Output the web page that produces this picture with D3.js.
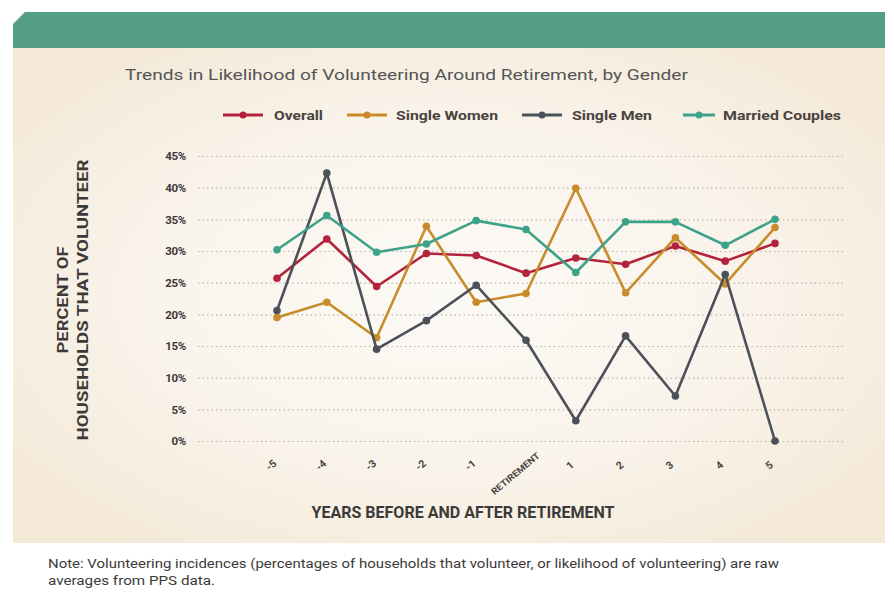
<!DOCTYPE html>
<html>
<head>
<meta charset="utf-8">
<script src="https://cdn.jsdelivr.net/npm/d3@7"></script>
<style>
  html, body { margin: 0; padding: 0; background: #ffffff; }
  svg { display: block; }
</style>
</head>
<body>
<svg id="chart" width="894" height="599"></svg>
<script>
// ---- data ----
const categories = ["-5", "-4", "-3", "-2", "-1", "RETIREMENT", "1", "2", "3", "4", "5"];
const overall       = [25.7, 31.9, 24.4, 29.6, 29.3, 26.5, 28.9, 27.9, 30.8, 28.4, 31.2];
const singleWomen   = [19.5, 21.9, 16.3, 33.9, 21.9, 23.3, 39.9, 23.4, 32.1, 24.8, 33.7];
const singleMen     = [20.6, 42.3, 14.5, 19.0, 24.6, 15.9, 3.2, 16.6, 7.1, 26.3, 0.0];
const marriedCouples= [30.2, 35.6, 29.8, 31.1, 34.8, 33.4, 26.6, 34.6, 34.6, 30.9, 35.0];
const seriesNames   = ["Overall", "Single Women", "Single Men", "Married Couples"];
const yTicks        = [0, 5, 10, 15, 20, 25, 30, 35, 40, 45];

const titleText = "Trends in Likelihood of Volunteering Around Retirement, by Gender";
const yTitle = ["PERCENT OF", "HOUSEHOLDS THAT VOLUNTEER"];
const xTitle = "YEARS BEFORE AND AFTER RETIREMENT";
const noteLines = ["Note: Volunteering incidences (percentages of households that volunteer, or likelihood of volunteering) are raw",
                   "averages from PPS data."];

const colors = ["#b3243c", "#c98c2c", "#4b5059", "#3ea28a"];
const seriesValues = [overall, singleWomen, singleMen, marriedCouples];

const svg = d3.select("#chart");

// ---- panel ----
const defs = svg.append("defs");
const rg = defs.append("radialGradient").attr("id", "bg").attr("cx", "50%").attr("cy", "50%").attr("r", "65%");
rg.append("stop").attr("offset", "0%").attr("stop-color", "#fcfaf6");
rg.append("stop").attr("offset", "55%").attr("stop-color", "#f9f3ea");
rg.append("stop").attr("offset", "100%").attr("stop-color", "#f4e8d6");

svg.append("rect").attr("x", 13).attr("y", 47).attr("width", 872).attr("height", 496).attr("fill", "url(#bg)");
svg.append("path")
  .attr("d", "M25,12 L885,12 L885,48 L13,48 L13,24 Z")
  .attr("fill", "#549d87");

// ---- title ----
svg.append("text").attr("x", 125).attr("y", 80)
  .attr("font-family", "Roboto, sans-serif").attr("font-size", 15.5)
  .attr("fill", "#555").attr("textLength", 563).attr("lengthAdjust", "spacingAndGlyphs")
  .text(titleText);

// ---- scales ----
const x = d3.scalePoint().domain(categories).range([277, 775]);
const y = d3.scaleLinear().domain([0, 45]).range([441, 156]);

// gridlines
const grid = svg.append("g").attr("transform", "translate(843,0)")
  .call(d3.axisLeft(y).tickValues(yTicks).tickSize(646).tickFormat(""));
grid.select(".domain").remove();
grid.selectAll(".tick line").attr("stroke", "#b9b4ad").attr("stroke-width", 1.2).attr("stroke-dasharray", "1.5,3");

// y axis labels
const yAxis = svg.append("g").attr("transform", "translate(186,0)")
  .call(d3.axisLeft(y).tickValues(yTicks).tickSize(0).tickPadding(0).tickFormat(d => d + "%"));
yAxis.select(".domain").remove();
yAxis.selectAll("text").attr("font-family", "Roboto, sans-serif").attr("font-weight", "bold")
  .attr("font-size", 11.5).attr("fill", "#3c3a38").attr("letter-spacing", "-0.3");

// y title
const yt = svg.append("g").attr("transform", "translate(0,300) rotate(-90)");
yTitle.forEach((t, i) => {
  yt.append("text").attr("x", 0).attr("y", 68 + i * 20).attr("text-anchor", "middle")
    .attr("font-family", "Roboto, sans-serif").attr("font-weight", "bold").attr("font-size", 15)
    .attr("fill", "#3c3a38")
    .attr("textLength", i === 0 ? 107 : 281).attr("lengthAdjust", "spacingAndGlyphs")
    .text(t);
});

// x axis labels
const xAxis = svg.append("g").attr("transform", "translate(0,462)")
  .call(d3.axisBottom(x).tickSize(0).tickPadding(0));
xAxis.select(".domain").remove();
xAxis.selectAll(".tick text")
  .attr("font-family", "Roboto, sans-serif").attr("font-weight", "bold")
  .attr("fill", "#4a4340")
  .attr("font-size", d => d === "RETIREMENT" ? 9 : 10.5)
  .attr("text-anchor", "middle")
  .attr("dy", null).attr("y", 0)
  .each(function(d) { if (d === "RETIREMENT") d3.select(this).attr("textLength", 60).attr("lengthAdjust", "spacingAndGlyphs"); })
  .attr("transform", d => d === "RETIREMENT" ? "translate(-9,14) rotate(-40)" : "translate(-4,6) rotate(-40)");

// x title
svg.append("text").attr("x", 463).attr("y", 518).attr("text-anchor", "middle")
  .attr("font-family", "Roboto, sans-serif").attr("font-weight", "bold").attr("font-size", 16)
  .attr("fill", "#3c3a38").attr("textLength", 303).attr("lengthAdjust", "spacingAndGlyphs")
  .text(xTitle);

// ---- lines ----
const line = d3.line().x((d, i) => x(categories[i])).y(d => y(d));
seriesValues.forEach((vals, s) => {
  const g = svg.append("g");
  g.append("path").datum(vals).attr("d", line).attr("fill", "none")
    .attr("stroke", colors[s]).attr("stroke-width", 2.6).attr("stroke-linejoin", "round");
  g.selectAll("circle").data(vals).join("circle")
    .attr("cx", (d, i) => x(categories[i])).attr("cy", d => y(d)).attr("r", 3.8)
    .attr("fill", colors[s]);
});

// ---- legend ----
const legendItems = [
  {lx: 223, lw: 40, tx: 274, tw: 49},
  {lx: 347, lw: 40, tx: 396, tw: 102},
  {lx: 522, lw: 40, tx: 572, tw: 80},
  {lx: 683, lw: 32, tx: 723, tw: 118}
];
const lg = svg.append("g");
seriesNames.forEach((n, i) => {
  const it = legendItems[i];
  lg.append("line").attr("x1", it.lx).attr("x2", it.lx + it.lw).attr("y1", 115).attr("y2", 115)
    .attr("stroke", colors[i]).attr("stroke-width", 3);
  lg.append("circle").attr("cx", it.lx + it.lw / 2).attr("cy", 115).attr("r", 3.5).attr("fill", colors[i]);
  lg.append("text").attr("x", it.tx).attr("y", 120)
    .attr("font-family", "Roboto, sans-serif").attr("font-weight", "bold").attr("font-size", 13.5)
    .attr("fill", "#4a4340").attr("textLength", it.tw).attr("lengthAdjust", "spacingAndGlyphs")
    .text(n);
});

// ---- note ----
noteLines.forEach((t, i) => {
  svg.append("text").attr("x", 48).attr("y", 568 + i * 17)
    .attr("font-family", "Roboto, sans-serif").attr("font-size", 12.5).attr("fill", "#3c3a38")
    .attr("textLength", i === 0 ? 731 : 167).attr("lengthAdjust", "spacingAndGlyphs")
    .text(t);
});
</script>
</body>
</html>
